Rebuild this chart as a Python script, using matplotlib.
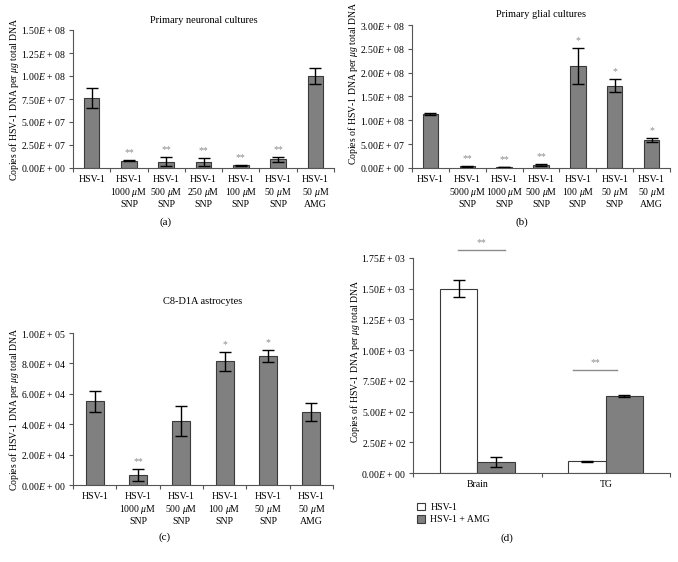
import numpy as np
import matplotlib
matplotlib.use("Agg")
import matplotlib.pyplot as plt
from matplotlib.ticker import FuncFormatter, FixedLocator
from matplotlib.patches import Patch

plt.rcParams['font.family'] = 'Liberation Serif'
plt.rcParams['mathtext.fontset'] = 'custom'
plt.rcParams['mathtext.rm'] = 'Liberation Serif'
plt.rcParams['mathtext.it'] = 'Liberation Serif:italic'
plt.rcParams['font.size'] = 7

# (a) primary neuronal cultures
a_labels = ['HSV-1', 'HSV-1\n1000 $\\mu$M\nSNP', 'HSV-1\n500 $\\mu$M\nSNP', 'HSV-1\n250 $\\mu$M\nSNP',
            'HSV-1\n100 $\\mu$M\nSNP', 'HSV-1\n50 $\\mu$M\nSNP', 'HSV-1\n50 $\\mu$M\nAMG']
a_vals = [7.6e7, 8.0e6, 7.0e6, 6.5e6, 3.0e6, 9.5e6, 1.0e8]
a_err = [1.05e7, 5e5, 5e6, 4e6, 8e5, 2.5e6, 9e6]
a_sig = ['', '**', '**', '**', '**', '**', '']

# (b) primary glial cultures
b_labels = ['HSV-1', 'HSV-1\n5000 $\\mu$M\nSNP', 'HSV-1\n1000 $\\mu$M\nSNP', 'HSV-1\n500 $\\mu$M\nSNP',
            'HSV-1\n100 $\\mu$M\nSNP', 'HSV-1\n50 $\\mu$M\nSNP', 'HSV-1\n50 $\\mu$M\nAMG']
b_vals = [1.13e8, 4.0e6, 2.5e6, 6.5e6, 2.14e8, 1.73e8, 5.9e7]
b_err = [2.5e6, 1e6, 5e5, 2e6, 3.7e7, 1.45e7, 4e6]
b_sig = ['', '**', '**', '**', '*', '*', '*']

# (c) C8-D1A astrocytes
c_labels = ['HSV-1', 'HSV-1\n1000 $\\mu$M\nSNP', 'HSV-1\n500 $\\mu$M\nSNP',
            'HSV-1\n100 $\\mu$M\nSNP', 'HSV-1\n50 $\\mu$M\nSNP', 'HSV-1\n50 $\\mu$M\nAMG']
c_vals = [5.5e4, 6.6e3, 4.22e4, 8.13e4, 8.5e4, 4.79e4]
c_err = [6.8e3, 4e3, 1.0e4, 6.3e3, 4e3, 6e3]
c_sig = ['', '**', '', '*', '*', '']

# (d) in vivo
d_groups = ['Brain', 'TG']
d_hsv = [1500, 95]
d_hsv_err = [71, 3]
d_amg = [88, 625]
d_amg_err = [40, 8]

GRAY = '#808080'
EDGE = '#3a3a3a'
SPINE = '#555555'
SIG = '#8c8c8c'
ylab = 'Copies of HSV-1 DNA per $\\mu g$ total DNA'


def efmt(v, pos=None):
    if v == 0:
        return '0.00$\\it{E}$ + 00'
    e = int(np.floor(np.log10(abs(v)) + 1e-9))
    m = v / 10 ** e
    return f'{m:.2f}$\\it{{E}}$ + {e:02d}'


def style(ax, n, ymax, step):
    for s in ['top', 'right']:
        ax.spines[s].set_visible(False)
    for s in ['left', 'bottom']:
        ax.spines[s].set_color(SPINE)
        ax.spines[s].set_linewidth(0.8)
    ax.set_xlim(-0.5, n - 0.5)
    ax.set_ylim(0, ymax)
    ax.set_yticks(np.arange(0, ymax + step / 2, step))
    ax.yaxis.set_major_formatter(FuncFormatter(efmt))
    ax.tick_params(axis='y', length=3, width=0.8, color=SPINE, pad=2)
    ax.set_xticks(range(n))
    ax.tick_params(axis='x', which='major', length=0, pad=5)
    ax.xaxis.set_minor_locator(FixedLocator(np.arange(-0.5, n, 1.0)))
    ax.tick_params(axis='x', which='minor', length=3, width=0.8, color=SPINE)
    ax.set_ylabel(ylab)
    ax.yaxis.set_label_coords(-0.2, 0.5)


def panel(ax, labels, vals, err, sig, ymax, step, wid):
    n = len(vals)
    x = np.arange(n)
    ax.bar(x, vals, width=wid, color=GRAY, edgecolor=EDGE, linewidth=0.8,
           yerr=err, error_kw=dict(ecolor='black', elinewidth=1, capsize=4, capthick=1))
    for xi, v, e, s in zip(x, vals, err, sig):
        if s:
            ax.text(xi, v + e + ymax * 0.02, s, ha='center', va='bottom', color=SIG, fontsize=7)
    style(ax, n, ymax, step)
    ax.set_xticklabels(labels)


fig = plt.figure(figsize=(6.78, 5.62), dpi=100)
W, H = 678, 562


def rect(l, r, t, b):
    return [l / W, 1 - b / H, (r - l) / W, (b - t) / H]


ax_a = fig.add_axes(rect(73, 334, 30, 168))
panel(ax_a, a_labels, a_vals, a_err, a_sig, 1.5e8, 2.5e7, 0.42)
ax_a.set_title('Primary neuronal cultures', fontsize=7.5, pad=5)

ax_b = fig.add_axes(rect(412, 670, 25, 168))
panel(ax_b, b_labels, b_vals, b_err, b_sig, 3.0e8, 5.0e7, 0.42)
ax_b.set_title('Primary glial cultures', fontsize=7.5, pad=6)
ax_b.yaxis.set_label_coords(-0.2, 0.59)

ax_c = fig.add_axes(rect(73, 333, 333, 485))
panel(ax_c, c_labels, c_vals, c_err, c_sig, 1.0e5, 2.0e4, 0.41)
ax_c.set_title('C8-D1A astrocytes', fontsize=7.5, pad=21)

ax_d = fig.add_axes(rect(413, 670, 258, 473))
xd = np.arange(len(d_groups))
bw = 0.29
ekw = dict(ecolor='black', elinewidth=1, capsize=4, capthick=1)
ax_d.bar(xd - bw / 2, d_hsv, width=bw, color='white', edgecolor=EDGE, linewidth=0.8,
         yerr=d_hsv_err, error_kw=ekw, label='HSV-1')
ax_d.bar(xd + bw / 2, d_amg, width=bw, color=GRAY, edgecolor=EDGE, linewidth=0.8,
         yerr=d_amg_err, error_kw=ekw, label='HSV-1 + AMG')
style(ax_d, 2, 1750, 250)
ax_d.yaxis.set_label_coords(-0.2, 0.52)
ax_d.set_xticklabels(d_groups)
ax_d.tick_params(axis='x', which='major', pad=5)
# significance bars
ax_d.plot([-0.152, 0.216], [1812, 1812], color=SIG, lw=1, clip_on=False)
ax_d.text(0.032, 1835, '**', ha='center', va='bottom', color=SIG, fontsize=7)
ax_d.plot([0.745, 1.088], [840, 840], color=SIG, lw=1, clip_on=False)
ax_d.text(0.916, 862, '**', ha='center', va='bottom', color=SIG, fontsize=7)

handles = [Patch(facecolor='white', edgecolor=EDGE, linewidth=0.8, label='HSV-1'),
           Patch(facecolor=GRAY, edgecolor=EDGE, linewidth=0.8, label='HSV-1 + AMG')]
fig.legend(handles=handles, loc='upper left', bbox_to_anchor=(408 / W, 1 - 494 / H),
           frameon=False, handlelength=0.8, handleheight=0.8, handletextpad=0.6,
           labelspacing=0.35, fontsize=7)

for txt, x, y in [('(a)', 166, 222), ('(b)', 522, 222), ('(c)', 165, 537), ('(d)', 507, 538)]:
    fig.text(x / W, 1 - y / H, txt, ha='center', va='center', fontsize=8)

fig.savefig('out.png', dpi=100)
